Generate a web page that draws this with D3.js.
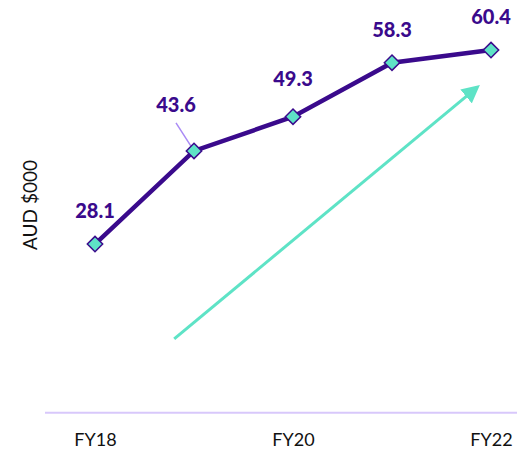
<!DOCTYPE html>
<html>
<head>
<meta charset="utf-8">
<script src="https://cdn.jsdelivr.net/npm/d3@7"></script>
<style>
  body { margin: 0; background: #fff; }
  svg text { font-family: Lato, "Open Sans", sans-serif; }
</style>
</head>
<body>
<div id="chart"></div>
<script>
var years = ["FY18", "FY19", "FY20", "FY21", "FY22"];
var values = [28.1, 43.6, 49.3, 58.3, 60.4];
var tickLabels = ["FY18", "FY20", "FY22"];
// trend arrow, in (category index, value) space
var arrowFrom = [0.8, 12.3];
var arrowTo = [3.86, 54.2];

var width = 517, height = 454;
var svg = d3.select("#chart").append("svg")
  .attr("width", width)
  .attr("height", height);

var xScale = d3.scalePoint().domain(years).range([95, 491]);
var xIdx = d3.scaleLinear().domain([0, years.length - 1]).range([95, 491]);
var yScale = d3.scaleLinear().domain([0, 70]).range([412.8, -7.6]);

// baseline axis
var xAxis = d3.axisBottom(xScale).tickValues(tickLabels).tickSize(0).tickPadding(20);
var ax = svg.append("g")
  .attr("transform", "translate(0," + yScale(0) + ")")
  .call(xAxis);
ax.select(".domain").remove();
ax.append("line")
  .attr("x1", 45).attr("x2", width)
  .attr("stroke", "#d8c8fb").attr("stroke-width", 2);
ax.selectAll(".tick text")
  .attr("fill", "#111")
  .style("font-size", "18px");

// y label
svg.append("text")
  .attr("transform", "translate(37,205) rotate(-90)")
  .attr("text-anchor", "middle")
  .attr("fill", "#111")
  .style("font-size", "19px")
  .text("AUD $000");

// trend arrow
svg.append("defs").append("marker")
  .attr("id", "head")
  .attr("viewBox", "0 0 10 10")
  .attr("refX", 8).attr("refY", 5)
  .attr("markerWidth", 6).attr("markerHeight", 6)
  .attr("orient", "auto")
  .append("path")
  .attr("d", "M0,0L10,5L0,10z")
  .attr("fill", "#5ee3c6");

svg.append("line")
  .attr("x1", xIdx(arrowFrom[0])).attr("y1", yScale(arrowFrom[1]))
  .attr("x2", xIdx(arrowTo[0])).attr("y2", yScale(arrowTo[1]))
  .attr("stroke", "#5ee3c6").attr("stroke-width", 3)
  .attr("marker-end", "url(#head)");

// line
var line = d3.line()
  .x(function(d, i) { return xScale(years[i]); })
  .y(function(d) { return yScale(d); });

svg.append("path")
  .datum(values)
  .attr("d", line)
  .attr("fill", "none")
  .attr("stroke", "#3a0a8c")
  .attr("stroke-width", 4.5);

// leader for FY19 label
svg.append("line")
  .attr("x1", xScale("FY19") - 18).attr("y1", yScale(values[1]) - 28)
  .attr("x2", xScale("FY19")).attr("y2", yScale(values[1]))
  .attr("stroke", "#a98af5").attr("stroke-width", 1.5);

// markers
svg.selectAll(".dot")
  .data(values)
  .enter()
  .append("path")
  .attr("class", "dot")
  .attr("d", d3.symbol().type(d3.symbolDiamond2).size(150))
  .attr("transform", function(d, i) {
    return "translate(" + xScale(years[i]) + "," + yScale(d) + ")";
  })
  .attr("fill", "#5ee3c6")
  .attr("stroke", "#3a0a8c")
  .attr("stroke-width", 1.5);

// value labels
var labelDx = [0, -18, 0, 0, 0];
var labelDy = [-26, -39, -31, -26, -26];
svg.selectAll(".val")
  .data(values)
  .enter()
  .append("text")
  .attr("class", "val")
  .attr("x", function(d, i) { return xScale(years[i]) + labelDx[i]; })
  .attr("y", function(d, i) { return yScale(d) + labelDy[i]; })
  .attr("text-anchor", "middle")
  .attr("fill", "#3a0a8c")
  .style("font-size", "20px")
  .style("font-weight", "900")
  .text(function(d) { return d.toFixed(1); });
</script>
</body>
</html>
